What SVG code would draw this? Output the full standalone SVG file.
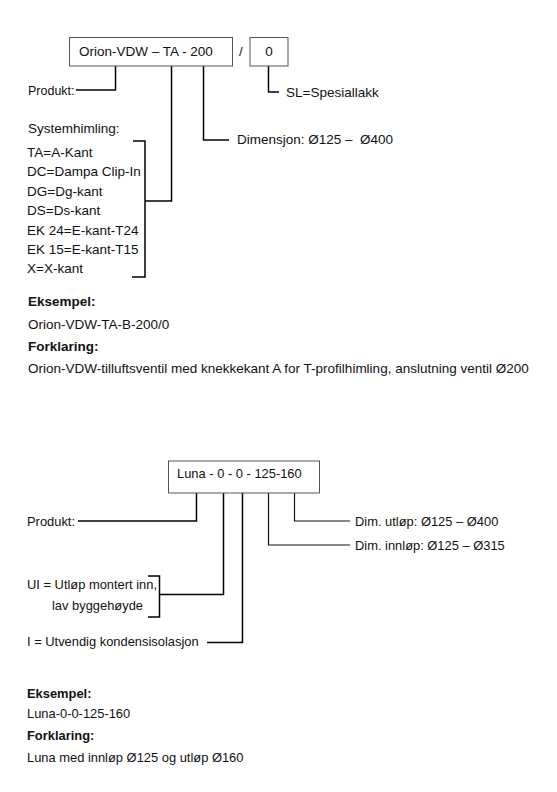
<svg xmlns="http://www.w3.org/2000/svg" width="557" height="792" viewBox="0 0 557 792">
<style>
text{font-family:"Liberation Sans",Arial,sans-serif;fill:#111;}
.t{font-size:13.5px;}
.s{font-size:12.9px;}
.b{font-weight:bold;}
.box{fill:#fff;stroke:#555;stroke-width:1;}
.ln{fill:none;stroke:#000;stroke-width:1.5;}
.lt{fill:none;stroke:#111;stroke-width:1.2;}
</style>
<rect width="557" height="792" fill="#fff"/>
<g id="connectors">
<path class="ln" d="M115.5 66V90H76"/>
<path class="ln" d="M171.5 66V201H145"/>
<path class="ln" d="M133 141H145V277H132"/>
<path class="ln" d="M203.5 66V140H229"/>
<path class="ln" d="M268.5 66V92H279"/>
<path class="ln" d="M196.5 493V521H78"/>
<path class="ln" d="M223.5 493V594.5H159.5"/>
<path class="ln" d="M148 576H159.5V617H148"/>
<path class="ln" d="M242.5 493V642.5H207"/>
<path class="lt" d="M268.5 493V545H350"/>
<path class="lt" d="M294.5 493V521H350"/>
</g>
<g id="orion-box">
<rect class="box" x="69.5" y="37.5" width="163" height="28.5"/>
<text class="t" x="79" y="56">Orion-VDW – TA - 200</text>
</g>
<g id="slash"><text class="t" x="239" y="56">/</text></g>
<g id="sl-box">
<rect class="box" x="250" y="37.5" width="38" height="28.5"/>
<text class="t" x="269" y="56" text-anchor="middle">0</text>
</g>
<g id="orion-labels">
<text x="28" y="94.5" style="font-size:12.5px">Produkt:</text>
<text class="t" x="286" y="96.5">SL=Spesiallakk</text>
<text class="t" x="237" y="143.5" xml:space="preserve">Dimensjon: Ø125 –  Ø400</text>
<text class="t" x="28" y="133">Systemhimling:</text>
<text class="t" x="27" y="157">TA=A-Kant</text>
<text class="t" x="27" y="176.4">DC=Dampa Clip-In</text>
<text class="t" x="27" y="195.8">DG=Dg-kant</text>
<text class="t" x="27" y="215.2">DS=Ds-kant</text>
<text class="t" x="27" y="234.6">EK 24=E-kant-T24</text>
<text class="t" x="27" y="254">EK 15=E-kant-T15</text>
<text class="t" x="27" y="273.4">X=X-kant</text>
</g>
<g id="orion-example">
<text class="t b" x="28" y="306">Eksempel:</text>
<text class="t" x="28" y="328.5">Orion-VDW-TA-B-200/0</text>
<text class="t b" x="28" y="351">Forklaring:</text>
<text class="t" x="28" y="373">Orion-VDW-tilluftsventil med knekkekant A for T-profilhimling, anslutning ventil Ø200</text>
</g>
<g id="luna-box">
<rect class="box" x="168.5" y="461" width="151" height="32"/>
<text class="s" x="177" y="477.5">Luna - 0 - 0 - 125-160</text>
</g>
<g id="luna-labels">
<text class="s" x="27" y="525.5">Produkt:</text>
<text class="s" x="355" y="525.5">Dim. utløp: Ø125 – Ø400</text>
<text class="s" x="355" y="549.5">Dim. innløp: Ø125 – Ø315</text>
<text class="s" x="27" y="589">UI = Utløp montert inn,</text>
<text class="s" x="52" y="609.5">lav byggehøyde</text>
<text class="s" x="27" y="646">I = Utvendig kondensisolasjon</text>
</g>
<g id="luna-example">
<text class="s b" x="27" y="697.5">Eksempel:</text>
<text class="s" x="27" y="717.5">Luna-0-0-125-160</text>
<text class="s b" x="27" y="739.5">Forklaring:</text>
<text class="s" x="27" y="761.5">Luna med innløp Ø125 og utløp Ø160</text>
</g>
</svg>
